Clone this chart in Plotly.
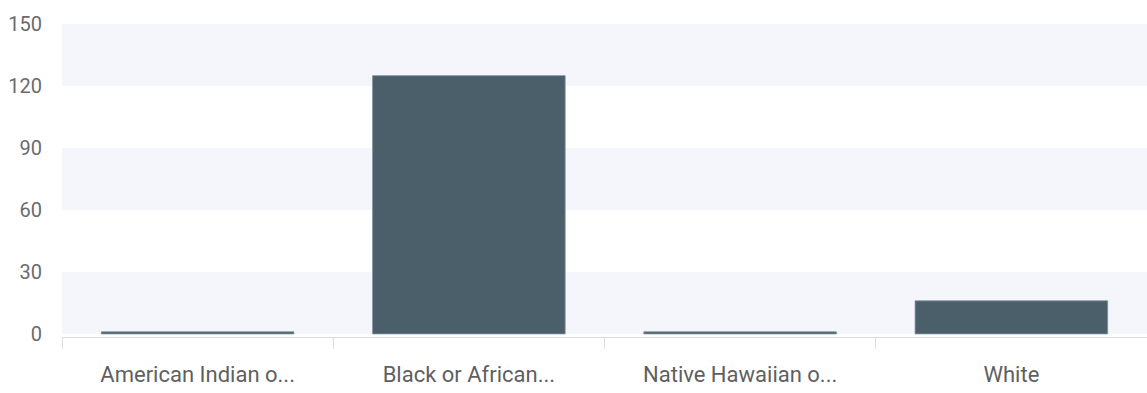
import plotly.graph_objects as go

categories = ["American Indian o...", "Black or African...", "Native Hawaiian o...", "White"]
values = [1, 125, 1, 16]
y_ticks = [0, 30, 60, 90, 120, 150]
bands = [(0, 30), (60, 90), (120, 150)]

fig = go.Figure(go.Bar(
    x=categories, y=values,
    marker=dict(color="#4a5f6a", line=dict(width=0.8, color="#7d8f99")),
    hoverinfo="x+y",
))

for lo, hi in bands:
    fig.add_shape(type="rect", xref="paper", yref="y", x0=0, x1=1, y0=lo, y1=hi,
                  fillcolor="#f5f6fb", line=dict(width=0), layer="below")

fig.update_layout(
    width=1147, height=393,
    margin=dict(l=62, r=0, t=24, b=56),
    paper_bgcolor="white", plot_bgcolor="white",
    bargap=0.29,
    showlegend=False,
    font=dict(family="Roboto", size=20, color="#666666"),
    xaxis=dict(
        showline=True, linecolor="#dcdcdc", linewidth=1,
        ticks="outside", tickson="boundaries", ticklen=11, tickcolor="#dcdcdc",
        showgrid=False, ticklabelstandoff=18,
        tickfont=dict(size=22, color="#5f5f5f"),
    ),
    yaxis=dict(
        range=[-1.5, 150], tickvals=y_ticks, showgrid=False, zeroline=False,
        showline=False, ticks="", ticklabelstandoff=19,
        tickfont=dict(size=20, color="#6b6b6b"),
    ),
)

fig.write_html("out.html")
